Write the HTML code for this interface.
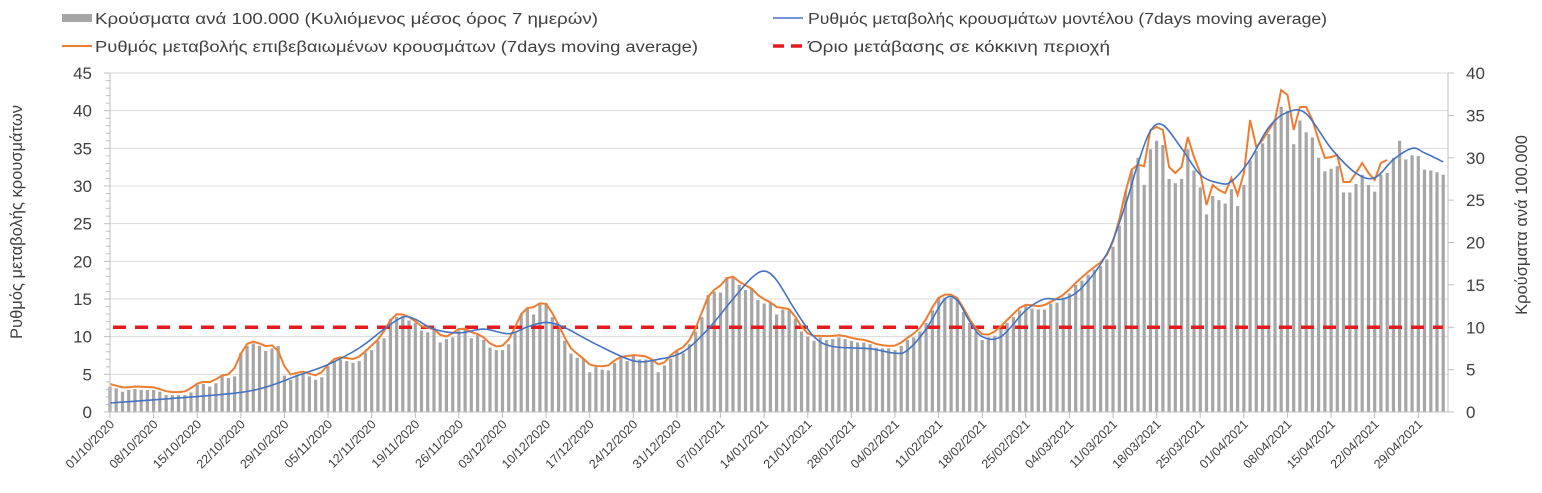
<!DOCTYPE html>
<html><head><meta charset="utf-8"><style>
body{margin:0;background:#fff;}
svg{display:block;font-family:"Liberation Sans",sans-serif;}
</style></head><body>
<svg id="c" width="1542" height="493" viewBox="0 0 1542 493" xmlns="http://www.w3.org/2000/svg"></svg>
<script>
const s=document.getElementById('c');
let h='';
const X0=110,DX=6.23,Y0=412;
const xd=d=>X0+DX*d;
const yL=v=>Y0-7.533*v, yR=v=>Y0-8.475*v;
for(let v=5;v<=45;v+=5){h+=`<line x1="110" x2="1448" y1="${yL(v)}" y2="${yL(v)}" stroke="#d9d9d9" stroke-width="1"/>`;}
const bars=[3,2.8,2.4,2.6,2.7,2.6,2.6,2.6,2.4,2.0,2.0,2.0,2.0,2.3,3.2,3.3,3.0,3.4,4.2,4.0,4.2,7,7.8,8.1,7.8,7.2,7.5,7.8,4.3,3.8,4.4,4.5,4.2,3.8,4.1,5.4,6.0,6.2,6.0,5.8,6.0,7.0,7.3,8.4,8.7,11,11.2,11.3,10.8,10.5,9.6,9.4,10,8.2,8.6,8.8,9.6,9.8,8.7,9.1,8.5,7.6,7.3,7.3,8,9.5,11.5,12.3,11.5,12.8,12.8,11.2,10,8.4,6.9,6.4,6.3,4.7,5.3,5.0,4.9,5.8,6.4,6.0,6.6,6.2,6.2,6.2,4.7,5.5,6.3,7.2,7.0,8.0,9.5,11.2,13.8,14.2,14.1,15.9,15.8,15.0,14.4,14.6,13.2,12.8,13.0,11.5,12.1,12.0,11.0,9.5,8.9,8.4,8.8,8.5,8.6,8.8,8.6,8.4,8.2,8.2,8.0,7.6,7.5,7.5,7.3,7.8,8.5,8.8,9.5,10.5,12,13.5,13.5,13.5,13.5,11.8,10.5,9.5,8.5,8.8,9.0,9.8,10.5,11.2,12,12.5,12.2,12.1,12.1,12.8,12.9,13.5,14,15,15.5,16.2,16.8,17.2,18,19.5,22,26,28.5,30,26.8,31,32,31.5,27.5,27,27.5,31,28.5,26.5,23.3,25.5,25,24.6,26.3,24.3,26.8,29.7,30.8,31.7,32.8,34.5,36,35.5,31.6,34.4,33,32.4,30,28.4,28.7,29,25.9,25.9,26.9,28,26.8,26,28,28.2,30,32,29.8,30.3,30.2,28.6,28.5,28.3,28];
bars.forEach((v,d)=>{const y=yR(v);h+=`<rect x="${(xd(d)-1.6).toFixed(1)}" y="${y.toFixed(1)}" width="3.2" height="${(Y0-y).toFixed(1)}" fill="#a6a6a6"/>`;});
h+=`<line x1="113" x2="1443" y1="${yR(10)}" y2="${yR(10)}" stroke="#e41a1c" stroke-width="3.5" stroke-dasharray="13,9"/>`;
const late={167:130,168:127,169:130,170:167,171:173,172:167,173:137,174:157,175:173,176:205,177:185,178:190,179:193,180:178,181:195,182:173,183:120,184:147,185:140,186:130,187:120,188:90,189:95,190:130,191:107,192:107,193:120,194:140,195:158,196:157,197:155,198:182,199:182,200:173,201:163,202:173,203:180,204:163,205:160};
let op=[];
for(let d=0;d<=205;d++){let y;if(late[d]!==undefined)y=late[d];else{const a=bars[Math.max(0,d-1)],b=bars[d],c=bars[d+1];y=yR((a+2*b+c)/4)-3;}op.push(`${xd(d).toFixed(1)},${y.toFixed(1)}`);}
h+=`<polyline points="${op.join(' ')}" fill="none" stroke="#ed7d31" stroke-width="2"/>`;
const bk=[[0,1.2],[10,1.8],[20,2.5],[25,3.3],[30,4.8],[35,6.3],[40,8.5],[44,11],[47,12.6],[49,12.3],[52,11],[56,10.5],[60,11],[64,10.4],[67,11.3],[70,11.9],[73,11.2],[78,9],[84,6.8],[88,7],[92,8],[96,11],[100,15],[103,17.8],[105,18.7],[107,17.5],[110,13.5],[113,10],[116,8.7],[122,8.4],[126,7.8],[128,8.2],[131,11],[134,15],[136,14.8],[138,12],[140,10],[143,10],[147,13.5],[150,15],[153,15],[156,16.5],[160,21],[163,27.5],[165,33],[167,37.3],[169,38.1],[172,35],[175,31.5],[178,30.4],[180,30.6],[183,33.5],[186,37.8],[189,39.8],[192,39.6],[196,35],[200,31.7],[203,31.1],[206,33.5],[209,35],[211,34.4],[214,33.2]];
const P=bk.map(p=>[xd(p[0]),yL(p[1])]);
let dp=`M${P[0][0].toFixed(1)},${P[0][1].toFixed(1)}`;
for(let i=0;i<P.length-1;i++){const p0=P[Math.max(0,i-1)],p1=P[i],p2=P[i+1],p3=P[Math.min(P.length-1,i+2)];
const c1=[p1[0]+(p2[0]-p0[0])/6,p1[1]+(p2[1]-p0[1])/6],c2=[p2[0]-(p3[0]-p1[0])/6,p2[1]-(p3[1]-p1[1])/6];
dp+=` C${c1[0].toFixed(1)},${c1[1].toFixed(1)} ${c2[0].toFixed(1)},${c2[1].toFixed(1)} ${p2[0].toFixed(1)},${p2[1].toFixed(1)}`;}
h+=`<path d="${dp}" fill="none" stroke="#4472c4" stroke-width="1.6"/>`;
h+=`<line x1="110" x2="110" y1="73" y2="412" stroke="#bfbfbf"/><line x1="1448" x2="1448" y1="73" y2="412" stroke="#bfbfbf"/><line x1="110" x2="1448" y1="412" y2="412" stroke="#bfbfbf"/>`;
for(let v=0;v<=45;v+=1){const y=yL(v);h+=`<line x1="${v%5?106:104}" x2="110" y1="${y}" y2="${y}" stroke="#bfbfbf"/>`;}
for(let v=0;v<=45;v+=5){h+=`<text x="92" y="${yL(v)+6}" font-size="17" text-anchor="end" fill="#404040">${v}</text>`;}
for(let v=0;v<=40;v+=5){h+=`<line x1="1448" x2="1454" y1="${yR(v)}" y2="${yR(v)}" stroke="#bfbfbf"/><text x="1466" y="${yR(v)+6}" font-size="17" fill="#404040">${v}</text>`;}
const labs=["01/10/2020","08/10/2020","15/10/2020","22/10/2020","29/10/2020","05/11/2020","12/11/2020","19/11/2020","26/11/2020","03/12/2020","10/12/2020","17/12/2020","24/12/2020","31/12/2020","07/01/2021","14/01/2021","21/01/2021","28/01/2021","04/02/2021","11/02/2021","18/02/2021","25/02/2021","04/03/2021","11/03/2021","18/03/2021","25/03/2021","01/04/2021","08/04/2021","15/04/2021","22/04/2021","29/04/2021"];
labs.forEach((l,i)=>{const x=xd(i*7);h+=`<line x1="${x}" x2="${x}" y1="412" y2="418" stroke="#bfbfbf"/><text transform="translate(${x+5},${425}) rotate(-45)" font-size="12.5" text-anchor="end" fill="#404040">${l}</text>`;});
h+=`<text transform="translate(22,222) rotate(-90)" font-size="16.5" text-anchor="middle" fill="#404040">Ρυθμός μεταβολής κρουσμάτων</text>`;
h+=`<text transform="translate(1527,225) rotate(-90)" font-size="16.5" text-anchor="middle" fill="#404040">Κρούσματα ανά 100.000</text>`;
h+=`<rect x="62" y="14" width="30" height="8" fill="#a6a6a6"/><text x="95" y="24" font-size="15.5" fill="#404040" textLength="503" lengthAdjust="spacingAndGlyphs">Κρούσματα ανά 100.000 (Κυλιόμενος μέσος όρος 7 ημερών)</text>`;
h+=`<line x1="773" x2="803" y1="18" y2="18" stroke="#4472c4" stroke-width="1.6"/><text x="808" y="24" font-size="15.5" fill="#404040" textLength="519" lengthAdjust="spacingAndGlyphs">Ρυθμός μεταβολής κρουσμάτων μοντέλου (7days moving average)</text>`;
h+=`<line x1="62" x2="92" y1="46" y2="46" stroke="#ed7d31" stroke-width="2"/><text x="95" y="52" font-size="15.5" fill="#404040" textLength="603" lengthAdjust="spacingAndGlyphs">Ρυθμός μεταβολής επιβεβαιωμένων κρουσμάτων (7days moving average)</text>`;
h+=`<line x1="773" x2="805" y1="46" y2="46" stroke="#e41a1c" stroke-width="3.5" stroke-dasharray="11,7"/><text x="808" y="52" font-size="15.5" fill="#404040" textLength="302" lengthAdjust="spacingAndGlyphs">Όριο μετάβασης σε κόκκινη περιοχή</text>`;
s.innerHTML=h;
</script>
</body></html>
